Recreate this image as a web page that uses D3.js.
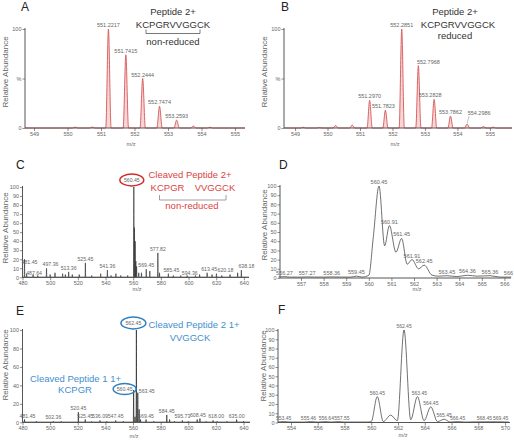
<!DOCTYPE html>
<html><head><meta charset="utf-8">
<script src="https://cdn.jsdelivr.net/npm/d3@7"></script>
<style>
html,body{margin:0;padding:0;background:#fff;}
svg{display:block;font-family:"Liberation Sans",Arial,sans-serif;}
</style></head><body>
<svg id="c" width="514" height="441"></svg>
<script>
// ---------------- DATA ----------------
// Panel A: peptide 2+ non-reduced (centroid m/z, relative abundance)
const aPeakMz = [550.23, 550.74, 551.2217, 551.7415, 552.2444, 552.7474, 553.2593, 553.76, 554.25];
const aPeakAb = [1, 1, 100, 74, 50, 22, 8, 2, 0.8];
const aLabels = ["551.2217", "551.7415", "552.2444", "552.7474", "553.2593"];
const aXTicks = [549, 550, 551, 552, 553, 554, 555];

// Panel B: peptide 2+ reduced
const bPeakMz = [549.25, 549.75, 550.25, 550.76, 551.2970, 551.7823, 552.2851, 552.7968, 553.2828, 553.7862, 554.2986, 554.8, 555.1];
const bPeakAb = [0.8, 0.5, 2.5, 3, 28, 18, 100, 63, 29, 12, 4, 1.5, 1];
const bLabels = ["551.2970", "551.7823", "552.2851", "552.7968", "553.2828", "553.7862", "554.2986"];
const bXTicks = [549, 550, 551, 552, 553, 554, 555];

// Panel C: cleaved peptide 2+ non-reduced (wide scan)
const cPeakMz = [481.45, 483, 487.64, 491, 497.36, 500, 503.5, 509, 511, 513.36, 516, 521, 525.45, 530, 536.5, 541.36, 544, 547.5, 551, 556,
  560.45, 560.91, 561.45, 561.91, 562.45, 564, 566, 569.45, 572, 577.82, 579, 585.45, 589, 594.36, 599, 605, 608, 613.45, 617, 620.18, 624, 630, 635.5, 638.18];
const cPeakAb = [20, 4, 3, 2, 10, 3, 5, 4, 3, 6, 3, 3, 16, 2, 4, 8, 2, 4, 2, 2,
  100, 55, 40, 18, 12, 5, 5, 9, 7, 27, 5, 4, 2, 2, 2, 2, 3, 5, 3, 4, 2, 3, 5, 8];
const cLabels = ["481.45", "487.64", "497.36", "513.36", "525.45", "541.36", "560.45", "569.45", "577.82", "585.45", "594.36", "613.45", "620.18", "638.18"];
const cXTicks = [480, 500, 520, 540, 560, 580, 600, 620, 640];

// Panel D: zoom of C (profile)
const dMz = [556.0, 556.27, 556.5, 557.0, 557.27, 557.6, 558.0, 558.36, 558.8, 559.2, 559.45, 559.7, 560.0, 560.2, 560.45, 560.7, 560.91, 561.2, 561.45, 561.7, 561.91, 562.2, 562.45, 562.8, 563.1, 563.45, 563.9, 564.36, 564.8, 565.36, 565.8, 566.3];
const dAb = [1, 1.5, 1, 1, 1.2, 1, 1, 1.2, 1, 1, 2, 1, 3, 45, 100, 35, 57, 28, 43, 15, 20, 10, 14, 3, 2, 2.5, 1.5, 3, 2, 2.5, 1, 1];
const dLabels = ["556.27", "557.27", "558.36", "559.45", "560.45", "560.91", "561.45", "561.91", "562.45", "563.45", "564.36", "565.36", "566"];
const dXTicks = [557, 558, 559, 560, 561, 562, 563, 564, 565, 566];

// Panel E: cleaved peptides 1+ (wide scan)
const ePeakMz = [481.45, 490, 502.36, 508, 520.45, 525.45, 530, 536.09, 541, 547.45, 553, 560.45, 561.45, 562.45, 563.45, 564.45, 565.45, 569.45, 575, 584.45, 586.5, 590, 595.73, 600, 606.5, 608.45, 613, 618.00, 621, 628, 635.00, 640];
const ePeakAb = [3, 1, 1, 1, 11, 3, 1, 2, 1, 2, 1, 35, 6, 100, 32, 14, 3, 3, 1, 8, 3, 1, 2, 1, 3, 4, 1, 2, 1, 1, 3, 1];
const eLabels = ["481.45", "502.36", "520.45", "525.45", "536.09", "547.45", "560.45", "562.45", "563.45", "569.45", "584.45", "595.73", "608.45", "618.00", "635.00"];
const eXTicks = [480, 500, 520, 540, 560, 580, 600, 620, 640];

// Panel F: zoom of E (profile)
const fMz = [553.0, 553.45, 554, 555, 555.46, 556, 556.64, 557, 557.55, 558, 559, 559.7, 560.0, 560.45, 560.9, 561.45, 561.95, 562.45, 562.95, 563.45, 563.95, 564.45, 564.95, 565.45, 565.9, 566.45, 567, 568.45, 569.45, 570.3];
const fAb = [0.5, 1, 0.5, 0.5, 1, 0.5, 1, 0.5, 1, 0.5, 0.5, 0.5, 1, 28, 1, 8, 2, 100, 3, 28, 2, 17, 1, 3.5, 0.5, 1, 0.5, 0.8, 0.8, 0.5];
const fLabels = ["553.45", "555.46", "556.64", "557.55", "560.45", "562.45", "563.45", "564.45", "565.45", "566.45", "568.45", "569.45"];
const fXTicks = [554, 556, 558, 560, 562, 564, 566, 568, 570];

// ---------------- DRAW ----------------
const svg = d3.select("#c");
svg.append("rect").attr("width", 514).attr("height", 441).attr("fill", "#fff");
const AX = "#444", TXT = "#666";

function nearestAb(mzArr, abArr, v) {
  let bi = 0;
  mzArr.forEach((m, i) => { if (Math.abs(m - v) < Math.abs(mzArr[bi] - v)) bi = i; });
  return abArr[bi];
}

function panel(p) {
  const g = svg.append("g");
  const x = d3.scaleLinear().domain(p.domain).range([p.left, p.right]);
  const y = d3.scaleLinear().domain([0, 100]).range([p.base, p.top]);

  let pts;
  if (p.mode === "peaks") {
    pts = [[p.domain[0], 0]];
    p.mz.forEach((m, i) => { pts.push([m - p.w, 0], [m, p.ab[i]], [m + p.w, 0]); });
    pts.push([p.domain[1], 0]);
  } else {
    pts = p.mz.map((m, i) => [m, p.ab[i]]);
  }
  const line = d3.line().x(d => x(d[0])).y(d => y(d[1])).curve(d3.curveMonotoneX);
  g.append("path").attr("d", line(pts))
    .attr("fill", p.fill || "none").attr("stroke", p.stroke).attr("stroke-width", p.sw)
    .attr("stroke-linejoin", "round");

  const xg = g.append("g").attr("transform", `translate(0,${p.base})`);
  xg.call(d3.axisBottom(x).tickValues(p.xMinor).tickSize(1.5).tickSizeOuter(0).tickFormat(""));
  xg.call(d3.axisBottom(x).tickValues(p.xTicks).tickSize(3).tickSizeOuter(0).tickFormat(d3.format("d")));
  xg.selectAll(".domain").attr("stroke", AX).attr("stroke-width", 0.9).attr("d", `M${p.left},0H${p.right}`);
  xg.selectAll(".tick line").attr("stroke", AX).attr("stroke-width", 0.6);
  xg.selectAll(".tick text").attr("font-size", 5.5).attr("fill", TXT).attr("font-family", "Liberation Sans, Arial").attr("dy", "0.9em").attr("y", 3);

  const yg = g.append("g").attr("transform", `translate(${p.left},0)`);
  if (p.yMinor) yg.call(d3.axisLeft(y).tickValues(p.yMinor).tickSize(1.5).tickSizeOuter(0).tickFormat(""));
  yg.call(d3.axisLeft(y).tickValues(p.yTicks).tickSize(2.5).tickSizeOuter(0).tickFormat(p.yFmt || d3.format("d")));
  yg.selectAll(".domain").attr("stroke", AX).attr("stroke-width", 0.9).attr("d", `M0,${p.base}V${p.top - 1}`);
  yg.selectAll(".tick line").attr("stroke", AX).attr("stroke-width", 0.6);
  yg.selectAll(".tick text").attr("font-size", 5.5).attr("fill", TXT).attr("font-family", "Liberation Sans, Arial").attr("x", -3.5);

  g.append("text").attr("x", p.mzX).attr("y", p.base + p.mzDy).attr("text-anchor", "middle")
    .attr("font-size", 5.5).attr("fill", TXT).text("m/z");
  g.append("text").attr("transform", `translate(${p.ylX},${p.ylY}) rotate(-90)`).attr("text-anchor", "middle")
    .attr("font-size", 8).attr("fill", "#666").text("Relative Abundance");
  g.append("text").attr("x", p.letterX).attr("y", p.letterY).attr("font-size", 12).attr("fill", "#222").text(p.letter);

  const pos = {};
  p.labels.forEach(t => {
    const m = parseFloat(t);
    const ab = nearestAb(p.mz, p.ab, m);
    const nd = (p.nudge && p.nudge[t]) || [0, 0];
    const lx = x(m) + nd[0], ly = y(ab) - 2 + nd[1];
    pos[t] = [lx, ly];
    g.append("text").attr("x", lx).attr("y", ly).attr("text-anchor", "middle")
      .attr("font-size", p.labelSize || 5.5).attr("fill", TXT).text(t);
  });
  return { g, x, y, pos };
}

// A
const pA = panel({
  mode: "peaks", mz: aPeakMz, ab: aPeakAb, w: 0.08, stroke: "#d65656", fill: "#f8d6d6", sw: 0.9,
  domain: [548.73, 555.3], left: 25, right: 245, top: 29, base: 128,
  xTicks: aXTicks, xMinor: d3.range(548.8, 555.3, 0.2), yTicks: [0, 50, 100], yFmt: d => d === 50 ? "%" : d,
  mzX: 131, mzDy: 18, ylX: 8, ylY: 72, letter: "A", letterX: 21, letterY: 11, labels: aLabels
});
// B
const pB = panel({
  mode: "peaks", mz: bPeakMz, ab: bPeakAb, w: 0.08, stroke: "#d65656", fill: "#f8d6d6", sw: 0.9,
  domain: [548.66, 555.68], left: 284, right: 512, top: 29, base: 128,
  xTicks: bXTicks, xMinor: d3.range(548.8, 555.7, 0.2), yTicks: [0, 50, 100], yFmt: d => d === 50 ? "%" : d,
  mzX: 395, mzDy: 18, ylX: 267, ylY: 72, letter: "B", letterX: 281, letterY: 11, labels: bLabels,
  nudge: { "552.7968": [10, 0], "553.2828": [-4, 0], "551.7823": [-2, 0], "554.2986": [12, -7] }
});
pB.g.append("line").attr("x1", pB.x(554.2986)).attr("y1", pB.y(4) - 1).attr("x2", pB.pos["554.2986"][0] - 10).attr("y2", pB.pos["554.2986"][1] + 1)
  .attr("stroke", "#888").attr("stroke-width", 0.5);

// C
const pC = panel({
  mode: "peaks", mz: cPeakMz, ab: cPeakAb, w: 0.2, stroke: "#333", sw: 0.7, labelSize: 5.2,
  domain: [480, 643.7], left: 22.5, right: 249, top: 187, base: 277.3,
  xTicks: cXTicks, xMinor: d3.range(480, 644, 5), yTicks: d3.range(0, 101, 10), yMinor: d3.range(0, 101, 2),
  mzX: 137, mzDy: 14, ylX: 8, ylY: 228, letter: "C", letterX: 16, letterY: 169, labels: cLabels,
  nudge: { "481.45": [5, 7], "487.64": [1, 2], "497.36": [4, 0], "585.45": [3, 0], "594.36": [9, 2], "613.45": [2, 0], "620.18": [9, 0], "638.18": [5, 0], "560.45": [-2, -3] }
});
// D
const pD = panel({
  mode: "profile", mz: dMz, ab: dAb, stroke: "#333", sw: 0.7,
  domain: [556.07, 566.29], left: 280, right: 511, top: 186, base: 278,
  xTicks: dXTicks, xMinor: d3.range(556.2, 566.3, 0.2), yTicks: d3.range(0, 101, 10), yMinor: d3.range(0, 101, 2),
  mzX: 417, mzDy: 13, ylX: 267, ylY: 225, letter: "D", letterX: 279, letterY: 169, labels: dLabels,
  nudge: { "566": [4, 0] }
});
// E
const pE = panel({
  mode: "peaks", mz: ePeakMz, ab: ePeakAb, w: 0.2, stroke: "#222", sw: 0.7, labelSize: 5.2,
  domain: [480, 644.7], left: 22.5, right: 250, top: 330, base: 422.3,
  xTicks: eXTicks, xMinor: d3.range(480, 645, 5), yTicks: d3.range(0, 101, 20), yMinor: d3.range(0, 101, 5),
  mzX: 134, mzDy: 16, ylX: 8, ylY: 365, letter: "E", letterX: 16, letterY: 315, labels: eLabels,
  nudge: { "560.45": [-9, 3], "563.45": [9, 2], "562.45": [-3, -3], "481.45": [3, 0], "608.45": [-2, 0], "618.00": [3, 0] }
});
// F
const pF = panel({
  mode: "profile", mz: fMz, ab: fAb, stroke: "#333", sw: 0.7, labelSize: 5.0,
  domain: [553.03, 570.37], left: 278, right: 510, top: 330, base: 422.5,
  xTicks: fXTicks, xMinor: d3.range(553.5, 570.4, 0.5), yTicks: d3.range(0, 101, 10), yMinor: d3.range(0, 101, 2),
  mzX: 403, mzDy: 14, ylX: 266, ylY: 366, letter: "F", letterX: 278, letterY: 314, labels: fLabels,
  nudge: { "563.45": [2, 0], "555.46": [-2, 0], "557.55": [3.5, 0], "569.45": [3, 0] }
});

// ---------------- ANNOTATIONS ----------------
function bracket(g, x1, x2, yb, h, color) {
  g.append("path").attr("d", `M${x1},${yb - h}V${yb}H${x2}V${yb - h}`).attr("fill", "none").attr("stroke", color).attr("stroke-width", 0.8);
}
function txt(g, s, xx, yy, color, size, anchor) {
  g.append("text").attr("x", xx).attr("y", yy).attr("text-anchor", anchor || "middle").attr("font-size", size).attr("fill", color).text(s);
}
txt(pA.g, "Peptide 2+", 173, 15, "#333", 9.5);
txt(pA.g, "KCPGRVVGGCK", 173, 28, "#333", 9.5);
bracket(pA.g, 146, 200, 33.5, 4, "#555");
txt(pA.g, "non-reduced", 173, 45, "#333", 9.5);
txt(pB.g, "Peptide 2+", 455, 15, "#333", 9.5);
txt(pB.g, "KCPGRVVGGCK", 458, 28, "#333", 9.5);
txt(pB.g, "reduced", 455, 39, "#333", 9.5);
const RED = "#d9443f";
txt(pC.g, "Cleaved Peptide 2+", 190, 177.5, RED, 9.5);
txt(pC.g, "KCPGR", 167.5, 191, RED, 9.5);
txt(pC.g, "VVGGCK", 215, 191, RED, 9.5);
bracket(pC.g, 159.5, 226, 200, 5, "#888");
txt(pC.g, "non-reduced", 192, 208.5, RED, 9.5);
const cL = pC.pos["560.45"];
pC.g.append("ellipse").attr("cx", cL[0]).attr("cy", cL[1] - 2).attr("rx", 12).attr("ry", 6)
  .attr("fill", "none").attr("stroke", "#d42b2b").attr("stroke-width", 1.4);
const BLUE = "#3f8fd0";
txt(pE.g, "Cleaved Peptide 2 1+", 194, 327.5, BLUE, 9.5);
txt(pE.g, "VVGGCK", 190, 341, BLUE, 9.5);
txt(pE.g, "Cleaved Peptide 1 1+", 75.5, 381.5, BLUE, 9.5);
txt(pE.g, "KCPGR", 75, 393, BLUE, 9.5);
[["562.45", 12.5, 6], ["560.45", 11.5, 5.5]].forEach(([k, rx, ry]) => {
  const q = pE.pos[k];
  pE.g.append("ellipse").attr("cx", q[0]).attr("cy", q[1] - 2).attr("rx", rx).attr("ry", ry)
    .attr("fill", "none").attr("stroke", "#2e7fc0").attr("stroke-width", 1.4);
});
</script>
</body></html>
